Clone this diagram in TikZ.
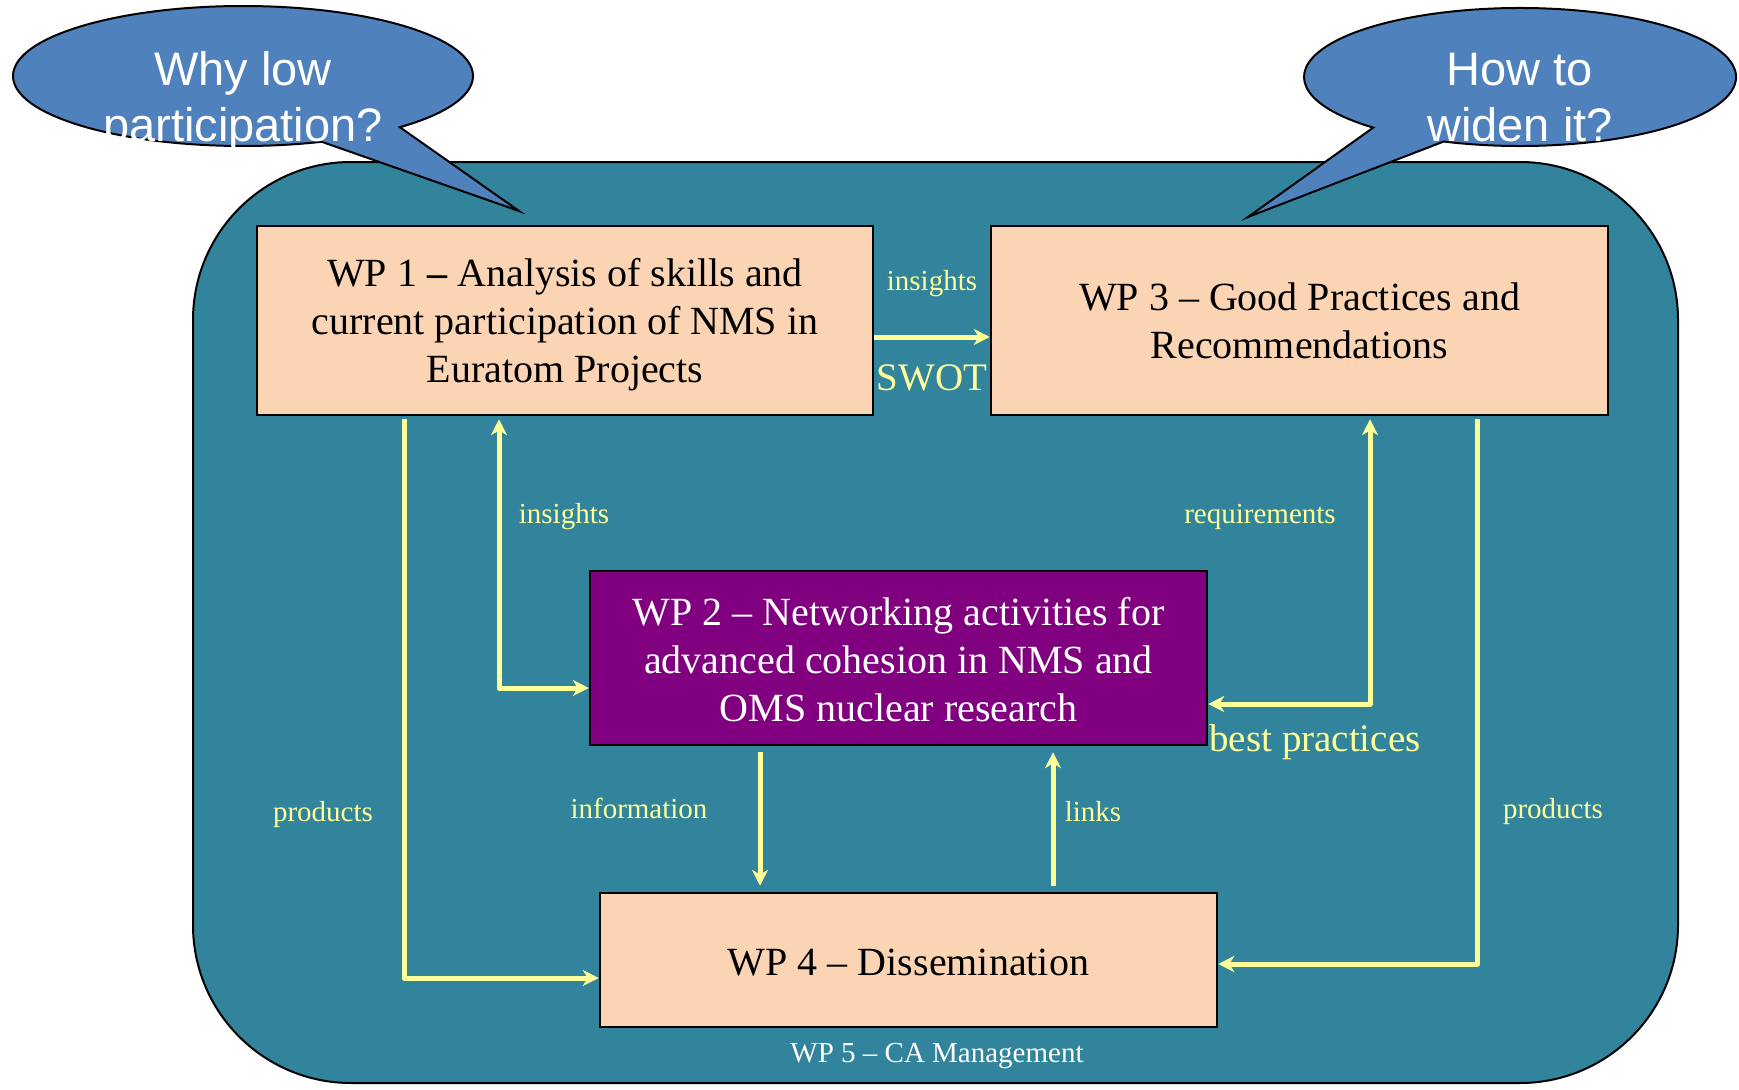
\documentclass[tikz,border=0pt]{standalone}
\usepackage{fontspec}
\setmainfont{Liberation Serif}
\newfontfamily\bubblefont{Liberation Sans}
\usetikzlibrary{arrows.meta}
\definecolor{wpteal}{HTML}{31849B}
\definecolor{wppeach}{HTML}{FBD4B4}
\definecolor{wpplum}{HTML}{800080}
\definecolor{wpbubble}{HTML}{4F81BD}
\definecolor{wpnote}{HTML}{FFFF99}
\begin{document}
\begin{tikzpicture}[x=1pt,y=1pt,
  wpbox/.style={draw=black, line width=2.5pt, fill=wppeach, inner sep=0pt,
    align=center, font=\fontsize{40}{48}\selectfont},
  wptext/.style={inner sep=0pt, align=center, font=\fontsize{40}{48}\selectfont},
  flow/.style={draw=wpnote, line width=5pt, line join=round,
    -{Stealth[length=16pt,width=16pt,inset=5pt]}},
  twoway/.style={flow, {Stealth[length=16pt,width=16pt,inset=5pt]}-{Stealth[length=16pt,width=16pt,inset=5pt]}},
  flowlabel/.style={text=wpnote, inner sep=0pt, font=\fontsize{29}{34}\selectfont},
  biglabel/.style={text=wpnote, inner sep=0pt, font=\fontsize{39}{46}\selectfont},
  bubbleshape/.style={draw=black, line width=2pt, fill=wpbubble},
  bubbletext/.style={text=white, inner sep=0pt, align=center,
    font=\bubblefont\fontsize{47}{56}\selectfont}
]
\useasboundingbox (0,0) rectangle (1739,-1089);

% WP 5 container
\draw[fill=wpteal, line width=2pt, rounded corners=158pt]
  (193,-162) rectangle (1678,-1083);

% speech bubbles
\draw[bubbleshape] (243,-76) ++(-47:230 and 70)
  arc[start angle=-47, end angle=290, x radius=230, y radius=70]
  -- (519,-211) -- cycle;
\draw[bubbleshape] (1520,-77) ++(249.3:216 and 69)
  arc[start angle=249.3, end angle=587.2, x radius=216, y radius=69]
  -- (1248,-217) -- cycle;
\node[bubbletext] (q1) at (243,-101) {Why low\\participation?};
\node[bubbletext] (q2) at (1520,-98) {How to\\widen it?};

% work packages
\node[wpbox, minimum width=616, minimum height=189] (wp1) at (565,-320.5) {};
\node[wptext] (wp1text) at ([yshift=-4.4pt]wp1.center)
  {WP 1 \textbf{–} Analysis of skills and\\current participation of NMS in\\Euratom Projects};
\node[wpbox, minimum width=617, minimum height=189] (wp3) at (1299.5,-320.5)
  {WP 3 – Good Practices and\\Recommendations};
\node[wpbox, fill=wpplum, minimum width=617, minimum height=174] (wp2) at (898.5,-658) {};
\node[wptext, text=white] (wp2text) at ([yshift=-2pt]wp2.center)
  {WP 2 – Networking activities for\\advanced cohesion in NMS and\\OMS nuclear research};
\node[wpbox, text height=31.5pt, minimum width=617, minimum height=134] (wp4) at (908.5,-960)
  {WP 4 – Dissemination};

% connectors
\draw[flow] ([yshift=-16.5pt]wp1.east) -- ([yshift=-16.5pt]wp3.west);
\draw[flow] ([xshift=-161pt,yshift=-3pt]wp1.south) |- ([yshift=-18pt]wp4.west);
\draw[twoway] ([yshift=-30pt]wp2.west) -| ([xshift=-66pt,yshift=-3pt]wp1.south);
\draw[twoway] ([yshift=-46pt]wp2.east) -| ([xshift=70.5pt,yshift=-3pt]wp3.south);
\draw[flow] ([xshift=-138.5pt,yshift=-6pt]wp2.south) -- ([xshift=-148.5pt,yshift=6pt]wp4.north);
\draw[flow] ([xshift=144.5pt,yshift=6pt]wp4.north) -- ([xshift=154.5pt,yshift=-6pt]wp2.south);
\draw[flow] ([xshift=177.5pt,yshift=-3pt]wp3.south) |- ([yshift=-4pt]wp4.east);

% connector labels
\node[flowlabel] (l1) at (932,-284) {insights};
\node[biglabel] (l2) at (932,-377.5) {SWOT};
\node[flowlabel] (l3) at (564,-516.5) {insights};
\node[flowlabel] (l4) at (1260,-516.5) {requirements};
\node[biglabel] (l5) at (1315,-742.5) {best practices};
\node[flowlabel] (l6) at (323,-814.5) {products};
\node[flowlabel] (l7) at (639,-808) {information};
\node[flowlabel] (l8) at (1093,-811.5) {links};
\node[flowlabel] (l9) at (1553,-811.5) {products};
\node[flowlabel, text=white] (wp5) at (937,-1056.5) {WP 5 – CA Management};
\end{tikzpicture}
\end{document}
